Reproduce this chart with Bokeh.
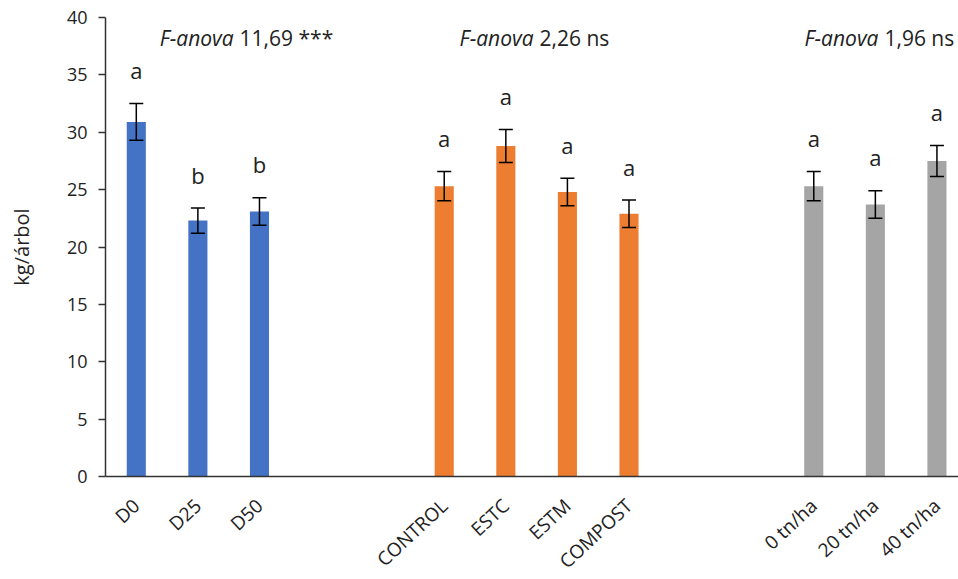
from bokeh.plotting import figure
from bokeh.models import ColumnDataSource, Whisker, TeeHead, FixedTicker, Label
from bokeh.embed import file_html
from bokeh.resources import INLINE
from bokeh.core.properties import value

# Yield per tree (kg/árbol) for three independent trials
dose_labels = ["D0", "D25", "D50"]
dose_means = [30.9, 22.3, 23.1]
dose_err = [1.6, 1.1, 1.2]
dose_letters = ["a", "b", "b"]

amend_labels = ["CONTROL", "ESTC", "ESTM", "COMPOST"]
amend_means = [25.3, 28.8, 24.8, 22.9]
amend_err = [1.27, 1.43, 1.2, 1.2]
amend_letters = ["a", "a", "a", "a"]

rate_labels = ["0 tn/ha", "20 tn/ha", "40 tn/ha"]
rate_means = [25.3, 23.7, 27.5]
rate_err = [1.27, 1.2, 1.35]
rate_letters = ["a", "a", "a"]

f_values = ["11,69 ***", "2,26 ns", "1,96 ns"]

y_ticks = [0, 5, 10, 15, 20, 25, 30, 35, 40]

FONT = "Open Sans"
TXT = "#222222"

# category slots: groups separated by two empty slots
groups = [
    (dose_labels, dose_means, dose_err, dose_letters, 0, "#4472C4"),
    (amend_labels, amend_means, amend_err, amend_letters, 5, "#ED7D31"),
    (rate_labels, rate_means, rate_err, rate_letters, 11, "#A5A5A5"),
]

p = figure(frame_width=853, frame_height=459, output_backend="svg",
           toolbar_location=None,
           x_range=(-0.5, 13.35), y_range=(0, 40),
           min_border_left=105, min_border_right=0, min_border_top=17,
           min_border_bottom=0)
p.outline_line_color = None
p.xgrid.visible = False
p.ygrid.visible = False

tick_pos = []
tick_lab = {}
for labels, means, errs, letters, start, color in groups:
    xs = [start + i for i in range(len(labels))]
    upper = [m + e for m, e in zip(means, errs)]
    lower = [m - e for m, e in zip(means, errs)]
    src = ColumnDataSource(dict(x=xs, top=means, upper=upper, lower=lower,
                                letter=letters,
                                ly=[u + 1.6 for u in upper]))
    p.vbar(x="x", top="top", width=0.31, bottom=0, source=src,
           fill_color=color, line_color=None)
    w = Whisker(base="x", upper="upper", lower="lower", source=src,
                level="overlay", line_color="black", line_width=1.5,
                upper_head=TeeHead(size=14, line_color="black", line_width=1.5),
                lower_head=TeeHead(size=14, line_color="black", line_width=1.5))
    p.add_layout(w)
    p.text(x="x", y="ly", text="letter", source=src, text_align="center",
           text_baseline="bottom", text_font=value(FONT),
           text_font_size="22px", text_color=TXT)
    for x, lab in zip(xs, labels):
        tick_pos.append(x)
        tick_lab[x] = lab

# ANOVA annotations above each group: italic statistic name, then value
anova_x = [1.58, 6.45, 12.05]
for ax, fv in zip(anova_x, f_values):
    p.add_layout(Label(x=ax, y=38.25, text="F-anova", text_align="right",
                       text_baseline="alphabetic", text_font=FONT,
                       text_font_style="italic", text_font_size="21px",
                       text_color=TXT))
    p.add_layout(Label(x=ax, y=38.25, x_offset=6, text=fv, text_align="left",
                       text_baseline="alphabetic", text_font=FONT,
                       text_font_size="21px", text_color=TXT))

p.xaxis.ticker = FixedTicker(ticks=tick_pos)
p.xaxis.major_label_overrides = tick_lab
p.xaxis.major_label_orientation = 0.75
p.xaxis.major_tick_line_color = None
p.xaxis.minor_tick_line_color = None
p.xaxis.major_label_text_font = FONT
p.xaxis.major_label_text_font_size = "19px"
p.xaxis.major_label_text_color = TXT
p.xaxis.major_label_standoff = 20
p.xaxis.axis_line_color = "#333333"
p.xaxis.axis_line_width = 1.5

p.yaxis.ticker = FixedTicker(ticks=y_ticks)
p.yaxis.minor_tick_line_color = None
p.yaxis.major_tick_out = 7
p.yaxis.major_tick_in = 0
p.yaxis.major_tick_line_color = "#333333"
p.yaxis.major_tick_line_width = 1.5
p.yaxis.axis_line_color = "#333333"
p.yaxis.axis_line_width = 1.5
p.yaxis.major_label_text_font = FONT
p.yaxis.major_label_text_font_size = "18px"
p.yaxis.major_label_text_color = TXT
p.yaxis.major_label_standoff = 11
p.yaxis.axis_label = "kg/árbol"
p.yaxis.axis_label_text_font = FONT
p.yaxis.axis_label_text_font_style = "normal"
p.yaxis.axis_label_text_font_size = "20px"
p.yaxis.axis_label_text_color = TXT
p.yaxis.axis_label_standoff = 29

open("out.html", "w").write(file_html(p, INLINE))
